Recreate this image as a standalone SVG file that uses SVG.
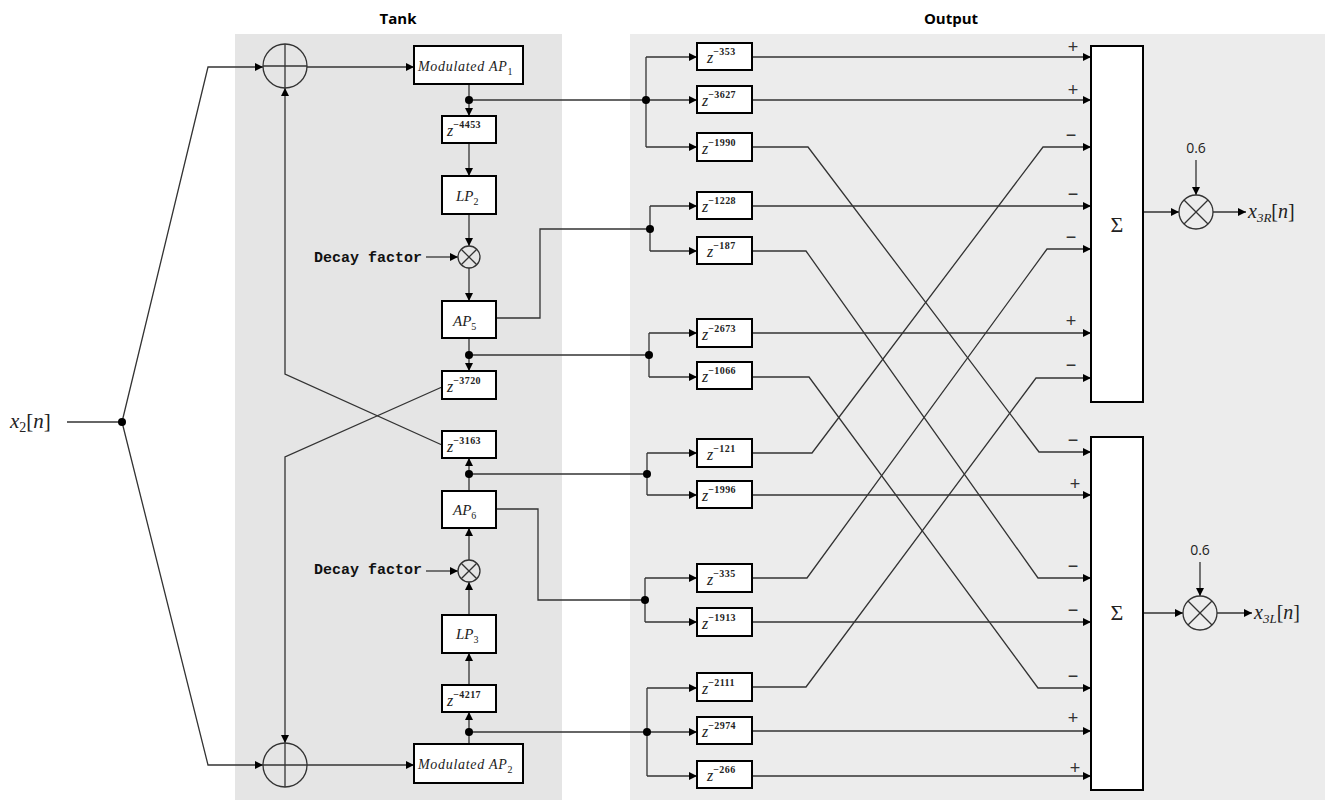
<svg xmlns="http://www.w3.org/2000/svg" width="1325" height="800" viewBox="0 0 1325 800">
<defs>
<marker id="a" viewBox="0 0 10 10" refX="10" refY="5" markerWidth="10" markerHeight="8" markerUnits="userSpaceOnUse" orient="auto"><path d="M0,0 L10,5 L0,10 z" fill="#000"/></marker>
<style>
.bx{fill:#fff;stroke:#000;stroke-width:2}
.ln{fill:none;stroke:#333;stroke-width:1.3}
.ar{fill:none;stroke:#333;stroke-width:1.3;marker-end:url(#a)}
.dot{fill:#000}
.cir{fill:none;stroke:#333;stroke-width:1.3}
.ttl{font-family:"Open Sans","Liberation Sans",sans-serif;font-weight:bold;font-size:15px;text-anchor:middle;fill:#000}
.it{font-family:"Liberation Serif","DejaVu Serif",serif;font-style:italic;fill:#222}
.rm{font-family:"Liberation Serif","DejaVu Serif",serif;fill:#222}
.z{font-family:"Liberation Serif","DejaVu Serif",serif;font-style:italic;font-size:16px;fill:#222}
.sup{font-style:normal;font-size:10px;font-weight:bold;letter-spacing:0.4px}
.mono{font-family:"Liberation Mono","DejaVu Sans Mono",monospace;font-weight:bold;font-size:15px;fill:#111}
.sg{font-family:"Liberation Sans","DejaVu Sans",sans-serif;font-size:18px;fill:#333;text-anchor:middle}
.num{font-family:"Open Sans","Liberation Sans",sans-serif;font-size:14px;fill:#222;text-anchor:middle}
</style>
</defs>
<rect x="235" y="34" width="327" height="766" fill="#e5e5e5"/>
<rect x="630" y="34" width="695" height="766" fill="#ececec"/>
<text class="ttl" x="398" y="24">Tank</text>
<text class="ttl" x="951" y="24">Output</text>

<g id="connectors">
<line class="ln" x1="67" y1="422" x2="122" y2="422"/>
<polyline class="ar" points="122,422 208,67 263,67"/>
<polyline class="ar" points="122,422 208,765 263,765"/>
<line class="ar" x1="307" y1="67" x2="414" y2="67"/>
<line class="ar" x1="307" y1="765" x2="414" y2="765"/>
<line class="ar" x1="469" y1="84" x2="469" y2="116"/>
<line class="ar" x1="469" y1="143" x2="469" y2="176"/>
<line class="ar" x1="469" y1="214" x2="469" y2="246"/>
<line class="ar" x1="426" y1="257" x2="458" y2="257"/>
<line class="ar" x1="469" y1="268" x2="469" y2="301"/>
<line class="ar" x1="469" y1="338" x2="469" y2="371"/>
<polyline class="ar" points="442,387 285,457 285,743"/>
<polyline class="ar" points="442,445 285,374 285,88"/>
<line class="ar" x1="469" y1="491" x2="469" y2="458"/>
<line class="ar" x1="469" y1="560" x2="469" y2="528"/>
<line class="ar" x1="426" y1="571" x2="458" y2="571"/>
<line class="ar" x1="469" y1="615" x2="469" y2="582"/>
<line class="ar" x1="469" y1="685" x2="469" y2="653"/>
<line class="ar" x1="469" y1="744" x2="469" y2="712"/>

<line class="ln" x1="469" y1="100" x2="646" y2="100"/>
<line class="ln" x1="646" y1="57" x2="646" y2="147"/>
<line class="ar" x1="646" y1="57" x2="697" y2="57"/>
<line class="ar" x1="646" y1="100" x2="697" y2="100"/>
<line class="ar" x1="646" y1="147" x2="697" y2="147"/>

<polyline class="ln" points="496,318 540,318 540,229 650,229"/>
<line class="ln" x1="650" y1="206" x2="650" y2="251"/>
<line class="ar" x1="650" y1="206" x2="697" y2="206"/>
<line class="ar" x1="650" y1="251" x2="697" y2="251"/>

<line class="ln" x1="469" y1="355" x2="649" y2="355"/>
<line class="ln" x1="649" y1="333" x2="649" y2="377"/>
<line class="ar" x1="649" y1="333" x2="697" y2="333"/>
<line class="ar" x1="649" y1="377" x2="697" y2="377"/>

<line class="ln" x1="469" y1="474" x2="647" y2="474"/>
<line class="ln" x1="647" y1="453" x2="647" y2="495"/>
<line class="ar" x1="647" y1="453" x2="697" y2="453"/>
<line class="ar" x1="647" y1="495" x2="697" y2="495"/>

<polyline class="ln" points="496,509 538,509 538,600 645,600"/>
<line class="ln" x1="645" y1="578" x2="645" y2="622"/>
<line class="ar" x1="645" y1="578" x2="697" y2="578"/>
<line class="ar" x1="645" y1="622" x2="697" y2="622"/>

<line class="ln" x1="469" y1="732" x2="647" y2="732"/>
<line class="ln" x1="647" y1="688" x2="647" y2="776"/>
<line class="ar" x1="647" y1="688" x2="697" y2="688"/>
<line class="ar" x1="647" y1="732" x2="697" y2="732"/>
<line class="ar" x1="647" y1="776" x2="697" y2="776"/>

<line class="ar" x1="752" y1="57" x2="1091" y2="57"/>
<line class="ar" x1="752" y1="100" x2="1091" y2="100"/>
<polyline class="ar" points="752,147 808,147 1039,452 1091,452"/>
<line class="ar" x1="752" y1="206" x2="1091" y2="206"/>
<polyline class="ar" points="752,251 806,251 1038,578 1091,578"/>
<line class="ar" x1="752" y1="333" x2="1091" y2="333"/>
<polyline class="ar" points="752,377 809,377 1038,688 1091,688"/>
<polyline class="ar" points="752,453 812,453 1043,147 1091,147"/>
<line class="ar" x1="752" y1="495" x2="1091" y2="495"/>
<polyline class="ar" points="752,578 807,578 1047,249 1091,249"/>
<line class="ar" x1="752" y1="622" x2="1091" y2="622"/>
<polyline class="ar" points="752,687 806,687 1036,378 1091,378"/>
<line class="ar" x1="752" y1="731" x2="1091" y2="731"/>
<line class="ar" x1="752" y1="776" x2="1091" y2="776"/>

<line class="ar" x1="1143" y1="212" x2="1179" y2="212"/>
<line class="ar" x1="1213" y1="212" x2="1246" y2="212"/>
<line class="ar" x1="1196" y1="160" x2="1196" y2="195"/>
<line class="ar" x1="1143" y1="613" x2="1183" y2="613"/>
<line class="ar" x1="1217" y1="613" x2="1252" y2="613"/>
<line class="ar" x1="1200" y1="562" x2="1200" y2="596"/>

<circle class="dot" cx="122" cy="422" r="4"/>
<circle class="dot" cx="469" cy="100" r="4"/>
<circle class="dot" cx="469" cy="355" r="4"/>
<circle class="dot" cx="469" cy="474" r="4"/>
<circle class="dot" cx="469" cy="732" r="4"/>
<circle class="dot" cx="646" cy="100" r="4"/>
<circle class="dot" cx="650" cy="229" r="4"/>
<circle class="dot" cx="649" cy="355" r="4"/>
<circle class="dot" cx="647" cy="474" r="4"/>
<circle class="dot" cx="645" cy="600" r="4"/>
<circle class="dot" cx="647" cy="732" r="4"/>
</g>

<g id="signs">
<text class="sg" x="1073" y="53">+</text>
<text class="sg" x="1073" y="96">+</text>
<text class="sg" x="1071" y="141">−</text>
<text class="sg" x="1073" y="200">−</text>
<text class="sg" x="1071" y="243">−</text>
<text class="sg" x="1071" y="327">+</text>
<text class="sg" x="1071" y="371">−</text>
<text class="sg" x="1073" y="446">−</text>
<text class="sg" x="1075" y="490">+</text>
<text class="sg" x="1073" y="572">−</text>
<text class="sg" x="1073" y="616">−</text>
<text class="sg" x="1073" y="682">−</text>
<text class="sg" x="1073" y="724">+</text>
<text class="sg" x="1075" y="774">+</text>
</g>

<g id="x2"><text x="10" y="428" class="it" font-size="21">x<tspan class="rm" font-size="14" dy="4" font-style="normal">2</tspan><tspan class="rm" dy="-4" font-style="normal">[</tspan>n<tspan class="rm" font-style="normal">]</tspan></text></g>

<g id="adderTop"><circle class="cir" cx="285" cy="66" r="22"/><line class="ln" x1="263" y1="66" x2="307" y2="66"/><line class="ln" x1="285" y1="44" x2="285" y2="88"/></g>
<g id="adderBot"><circle class="cir" cx="285" cy="765" r="22"/><line class="ln" x1="263" y1="765" x2="307" y2="765"/><line class="ln" x1="285" y1="743" x2="285" y2="787"/></g>

<g id="modAP1"><rect class="bx" x="414" y="46" width="109" height="38"/><text class="it" x="418" y="71" font-size="14" letter-spacing="0.7">Modulated AP<tspan font-size="10" dy="4" font-style="normal">1</tspan></text></g>
<g id="z4453"><rect class="bx" x="442" y="116" width="54" height="27"/><text class="z" x="447" y="136">z<tspan class="sup" dy="-8">−4453</tspan></text></g>
<g id="LP2"><rect class="bx" x="442" y="176" width="54" height="38"/><text class="it" x="456" y="201" font-size="15">LP<tspan font-size="10" dy="4" font-style="normal">2</tspan></text></g>
<g id="mul1"><circle class="cir" cx="469" cy="257" r="11"/><line class="ln" x1="461.2" y1="249.2" x2="476.8" y2="264.8"/><line class="ln" x1="476.8" y1="249.2" x2="461.2" y2="264.8"/><text class="mono" x="314" y="262">Decay factor</text></g>
<g id="AP5"><rect class="bx" x="442" y="301" width="54" height="37"/><text class="it" x="453" y="326" font-size="15">AP<tspan font-size="10" dy="4" font-style="normal">5</tspan></text></g>
<g id="z3720"><rect class="bx" x="442" y="371" width="54" height="28"/><text class="z" x="447" y="392">z<tspan class="sup" dy="-8">−3720</tspan></text></g>
<g id="z3163"><rect class="bx" x="442" y="431" width="54" height="27"/><text class="z" x="447" y="452">z<tspan class="sup" dy="-8">−3163</tspan></text></g>
<g id="AP6"><rect class="bx" x="442" y="491" width="54" height="37"/><text class="it" x="453" y="515" font-size="15">AP<tspan font-size="10" dy="4" font-style="normal">6</tspan></text></g>
<g id="mul2"><circle class="cir" cx="469" cy="571" r="11"/><line class="ln" x1="461.2" y1="563.2" x2="476.8" y2="578.8"/><line class="ln" x1="476.8" y1="563.2" x2="461.2" y2="578.8"/><text class="mono" x="314" y="574">Decay factor</text></g>
<g id="LP3"><rect class="bx" x="442" y="615" width="54" height="38"/><text class="it" x="456" y="639" font-size="15">LP<tspan font-size="10" dy="4" font-style="normal">3</tspan></text></g>
<g id="z4217"><rect class="bx" x="442" y="685" width="54" height="27"/><text class="z" x="447" y="706">z<tspan class="sup" dy="-8">−4217</tspan></text></g>
<g id="modAP2"><rect class="bx" x="414" y="744" width="109" height="39"/><text class="it" x="418" y="769" font-size="14" letter-spacing="0.7">Modulated AP<tspan font-size="10" dy="4" font-style="normal">2</tspan></text></g>

<g id="z353"><rect class="bx" x="697" y="43" width="55" height="27"/><text class="z" x="707" y="63">z<tspan class="sup" dy="-8">−353</tspan></text></g>
<g id="z3627"><rect class="bx" x="697" y="86" width="55" height="27"/><text class="z" x="702" y="106">z<tspan class="sup" dy="-8">−3627</tspan></text></g>
<g id="z1990"><rect class="bx" x="697" y="133" width="55" height="28"/><text class="z" x="702" y="154">z<tspan class="sup" dy="-8">−1990</tspan></text></g>
<g id="z1228"><rect class="bx" x="697" y="192" width="55" height="27"/><text class="z" x="702" y="212">z<tspan class="sup" dy="-8">−1228</tspan></text></g>
<g id="z187"><rect class="bx" x="697" y="237" width="55" height="27"/><text class="z" x="707" y="257">z<tspan class="sup" dy="-8">−187</tspan></text></g>
<g id="z2673"><rect class="bx" x="697" y="319" width="55" height="28"/><text class="z" x="702" y="340">z<tspan class="sup" dy="-8">−2673</tspan></text></g>
<g id="z1066"><rect class="bx" x="697" y="362" width="55" height="27"/><text class="z" x="702" y="382">z<tspan class="sup" dy="-8">−1066</tspan></text></g>
<g id="z121"><rect class="bx" x="697" y="439" width="55" height="28"/><text class="z" x="707" y="460">z<tspan class="sup" dy="-8">−121</tspan></text></g>
<g id="z1996"><rect class="bx" x="697" y="481" width="55" height="27"/><text class="z" x="702" y="501">z<tspan class="sup" dy="-8">−1996</tspan></text></g>
<g id="z335"><rect class="bx" x="697" y="564" width="55" height="28"/><text class="z" x="707" y="585">z<tspan class="sup" dy="-8">−335</tspan></text></g>
<g id="z1913"><rect class="bx" x="697" y="608" width="55" height="28"/><text class="z" x="702" y="629">z<tspan class="sup" dy="-8">−1913</tspan></text></g>
<g id="z2111"><rect class="bx" x="697" y="673" width="55" height="28"/><text class="z" x="702" y="694">z<tspan class="sup" dy="-8">−2111</tspan></text></g>
<g id="z2974"><rect class="bx" x="697" y="717" width="55" height="27"/><text class="z" x="702" y="737">z<tspan class="sup" dy="-8">−2974</tspan></text></g>
<g id="z266"><rect class="bx" x="697" y="761" width="55" height="27"/><text class="z" x="707" y="781">z<tspan class="sup" dy="-8">−266</tspan></text></g>

<g id="sumR"><rect class="bx" x="1091" y="46" width="52" height="356"/><text class="rm" x="1117" y="232" font-size="22" text-anchor="middle">Σ</text></g>
<g id="mulR"><circle class="cir" cx="1196" cy="212" r="17"/><line class="ln" x1="1184" y1="200" x2="1208" y2="224"/><line class="ln" x1="1208" y1="200" x2="1184" y2="224"/><text class="num" x="1196" y="153">0.6</text><text class="it" x="1248" y="218" font-size="20">x<tspan font-size="13" dy="4">3R</tspan><tspan class="rm" dy="-4" font-style="normal">[</tspan>n<tspan class="rm" font-style="normal">]</tspan></text></g>
<g id="sumL"><rect class="bx" x="1091" y="437" width="52" height="353"/><text class="rm" x="1117" y="620" font-size="22" text-anchor="middle">Σ</text></g>
<g id="mulL"><circle class="cir" cx="1200" cy="613" r="17"/><line class="ln" x1="1188" y1="601" x2="1212" y2="625"/><line class="ln" x1="1212" y1="601" x2="1188" y2="625"/><text class="num" x="1200" y="555">0.6</text><text class="it" x="1254" y="619" font-size="20">x<tspan font-size="13" dy="4">3L</tspan><tspan class="rm" dy="-4" font-style="normal">[</tspan>n<tspan class="rm" font-style="normal">]</tspan></text></g>
</svg>
